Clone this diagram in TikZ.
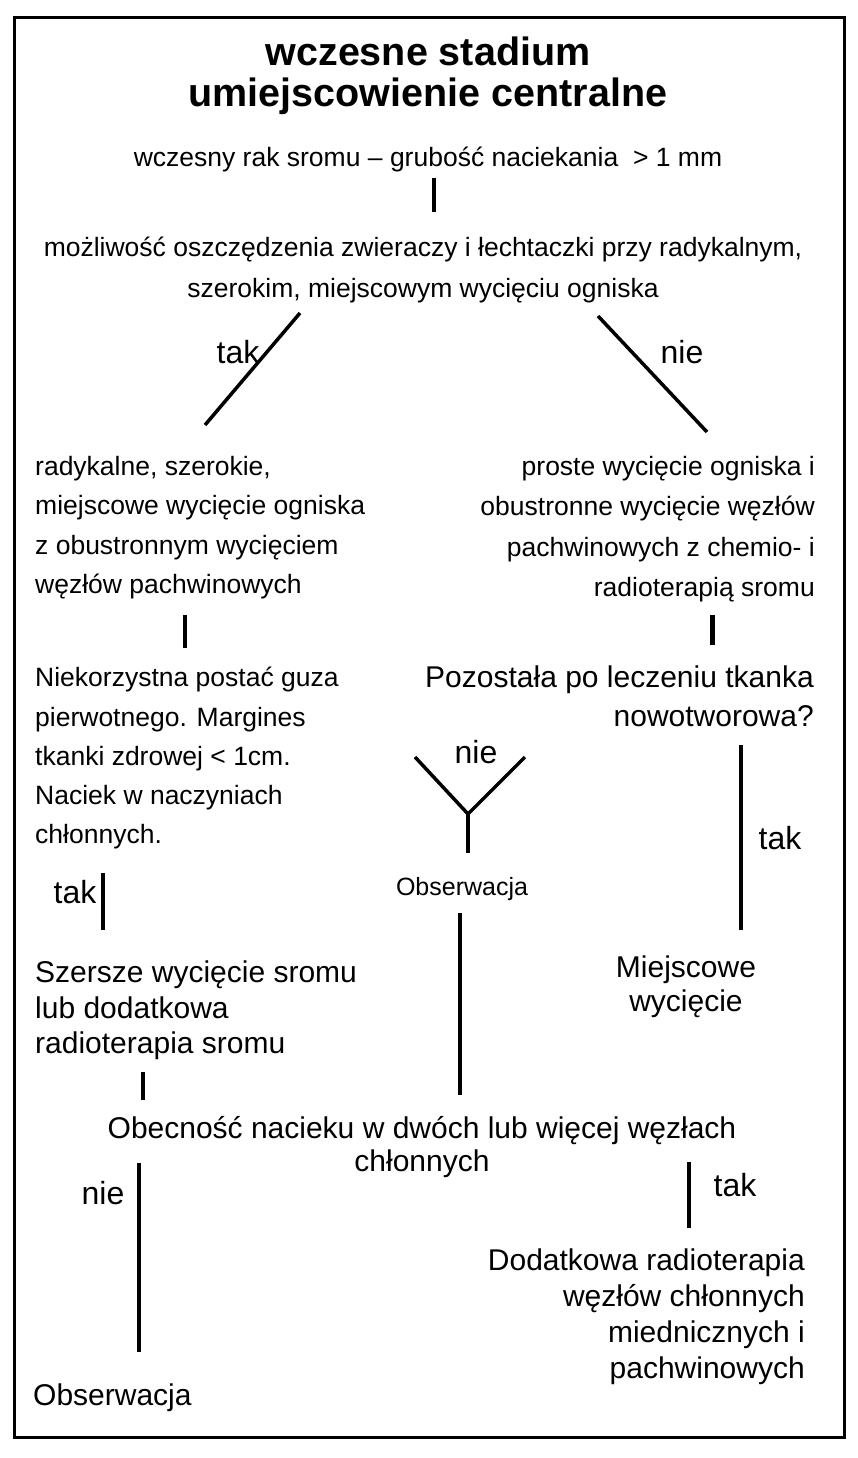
\documentclass[tikz,border=0pt]{standalone}
\usepackage{fontspec}
\setmainfont{Liberation Sans}
\begin{document}
\begin{tikzpicture}[x=1pt,y=-1pt,
  txt/.style={inner sep=0pt, font=\fontsize{26.5}{39.3}\selectfont},
  big/.style={inner sep=0pt, font=\fontsize{30}{35.5}\selectfont},
  mid/.style={inner sep=0pt, font=\fontsize{25}{30}\selectfont},
  lbl/.style={inner sep=0pt, font=\fontsize{32}{36}\selectfont},
  ttl/.style={inner sep=0pt, font=\fontsize{39.5}{41}\selectfont\bfseries},
  conn/.style={line width=3.5pt},
]
\useasboundingbox (0,0) rectangle (858,1458);
\draw[line width=3pt] (14,18) rectangle (844,1437);

% title
\node[ttl, align=center, anchor=north] (title) at (428,37) {wczesne stadium\\umiejscowienie centralne};
\node[txt, anchor=north] (start) at (428,147) {wczesny rak sromu -- grubość naciekania \ > 1 mm};
\coordinate (c1a) at (434,178); \coordinate (c1b) at (434,212);
\draw[conn] (c1a) -- (c1b);
\node[txt, align=center, anchor=north, font=\fontsize{26.5}{41}\selectfont] (q1) at (423,237) {możliwość oszczędzenia zwieraczy i łechtaczki przy radykalnym,\\szerokim, miejscowym wycięciu ogniska};

% diagonals
\coordinate (dla) at (300,313); \coordinate (dlb) at (205,425);
\coordinate (dra) at (598,316); \coordinate (drb) at (707,432);
\draw[conn] (dla) -- (dlb);
\draw[conn] (dra) -- (drb);
\node[lbl] (tak1) at (238,352) {tak};
\node[lbl] (nie1) at (682,352) {nie};

% first-level blocks
\node[txt, align=left, anchor=north west] (left1) at (35,456) {radykalne, szerokie,\\miejscowe wycięcie ogniska\\z obustronnym wycięciem\\węzłów pachwinowych};
\node[txt, align=right, anchor=north east, font=\fontsize{26.5}{40.3}\selectfont] (right1) at (815,456) {proste wycięcie ogniska i\\obustronne wycięcie węzłów\\pachwinowych z chemio- i\\radioterapią sromu};

\coordinate (b1a) at (185,615); \coordinate (b1b) at (185,648);
\draw[conn] (b1a) -- (b1b);
\coordinate (b2a) at (712,615); \coordinate (b2b) at (712,645);
\draw[line width=5pt] (b2a) -- (b2b);

\node[txt, align=left, anchor=north west] (left2) at (35,667) {Niekorzystna postać guza\\pierwotnego. Margines\\tkanki zdrowej < 1cm.\\Naciek w naczyniach\\chłonnych.};
\node[big, align=right, anchor=north east, font=\fontsize{30}{39}\selectfont] (right2) at (814,666) {Pozostała po leczeniu tkanka\\nowotworowa?};

% Y shape
\coordinate (yl) at (415,757); \coordinate (yr) at (525,757);
\coordinate (yj) at (468,814); \coordinate (yb) at (468,853);
\draw[conn, line join=miter] (yl) -- (yj) -- (yr);
\draw[conn] (yj) -- (yb);
\node[lbl] (nie2) at (476,752) {nie};
\node[mid] (obs1) at (462,889) {Obserwacja};

% right long line
\coordinate (r1a) at (741,745); \coordinate (r1b) at (741,930);
\draw[conn] (r1a) -- (r1b);
\node[lbl] (tak2) at (780,838) {tak};

\node[lbl] (tak3) at (75,892) {tak};
\coordinate (l1a) at (103,873); \coordinate (l1b) at (103,930);
\draw[conn] (l1a) -- (l1b);

\node[big, align=center, anchor=north, font=\fontsize{30}{34}\selectfont] (miej) at (686,956) {Miejscowe\\wycięcie};

\coordinate (m1a) at (460,913); \coordinate (m1b) at (460,1095);
\draw[conn] (m1a) -- (m1b);

\node[big, align=left, anchor=north west] (szer) at (35,961) {Szersze wycięcie sromu\\lub dodatkowa\\radioterapia sromu};

\coordinate (l2a) at (143,1072); \coordinate (l2b) at (143,1100);
\draw[conn] (l2a) -- (l2b);

\node[big, align=center, anchor=north, font=\fontsize{30}{33}\selectfont] (obec) at (422,1116) {Obecność nacieku w dwóch lub więcej węzłach\\chłonnych};

\coordinate (l3a) at (139,1163); \coordinate (l3b) at (139,1352);
\draw[conn] (l3a) -- (l3b);
\node[lbl] (nie3) at (103,1193) {nie};
\coordinate (r2a) at (689,1162); \coordinate (r2b) at (689,1228);
\draw[conn] (r2a) -- (r2b);
\node[lbl] (tak4) at (735,1185) {tak};

\node[big, align=right, anchor=north east, font=\fontsize{30}{35.7}\selectfont] (dod) at (805,1249) {Dodatkowa radioterapia\\węzłów chłonnych\\miednicznych i\\pachwinowych};
\node[big, anchor=north west] (obs2) at (33,1384) {Obserwacja};
\end{tikzpicture}
\end{document}
